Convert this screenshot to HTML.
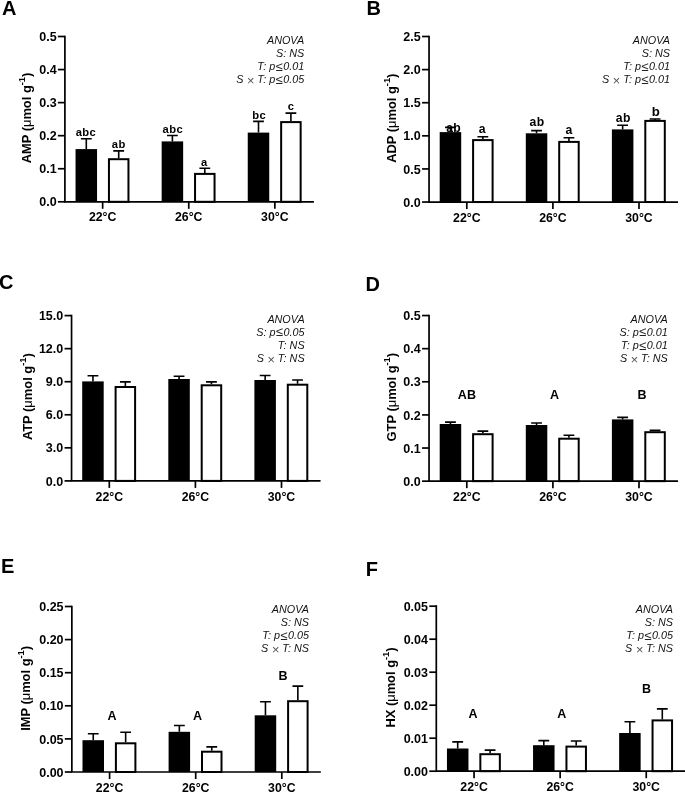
<!DOCTYPE html>
<html><head><meta charset="utf-8"><title>Figure</title>
<style>
html,body{margin:0;padding:0;background:#fff;}
body{width:685px;height:792px;overflow:hidden;}
svg{display:block;will-change:transform;}
text{font-family:"Liberation Sans",sans-serif;fill:#000;}
path{stroke:#000;stroke-width:1.7px;fill:none;stroke-linecap:butt;}
.bk{fill:#000;stroke:none;}
.wh{fill:#fff;stroke:#000;stroke-width:2.0px;}
.eb{stroke-width:1.6px;}
.pl{font-weight:bold;font-size:20.0px;}
.tk{font-weight:bold;font-size:12.5px;text-anchor:end;}
.cat{font-weight:bold;font-size:12.3px;text-anchor:middle;}
.lt{font-weight:bold;font-size:11.2px;text-anchor:middle;letter-spacing:0.4px;}
.lc{font-weight:bold;font-size:12.5px;text-anchor:middle;}
.an{font-style:italic;font-size:10.8px;text-anchor:end;fill:#111;}
.an .x{font-size:12.96px;fill:#555;}
.an .le{font-size:12.96px;fill:#222;}
.yl{font-weight:bold;font-size:12.9px;text-anchor:middle;}
.yl .mu{font-weight:normal;}
.yl .sup{font-size:9.288px;}
</style></head>
<body>
<svg width="685" height="792" viewBox="0 0 685 792">
<text class="pl" x="2" y="14.6">A</text>
<path class="eb" d="M86.3 149.1V138.8M80.9 138.8H91.7"/>
<rect class="bk" x="75.55" y="149.1" width="21.5" height="52.7"/>
<path class="eb" d="M118.7 158.2V150.9M113.3 150.9H124.1"/>
<rect class="wh" x="108.95" y="159.2" width="19.5" height="42.6"/>
<path d="M102.65 201.8V208.8"/>
<text class="cat" x="102.65" y="221.4">22°C</text>
<path class="eb" d="M172.4 141.4V135.5M167 135.5H177.8"/>
<rect class="bk" x="161.65" y="141.4" width="21.5" height="60.4"/>
<path class="eb" d="M204.8 172.9V168.3M199.4 168.3H210.2"/>
<rect class="wh" x="195.05" y="173.9" width="19.5" height="27.9"/>
<path d="M188.75 201.8V208.8"/>
<text class="cat" x="188.75" y="221.4">26°C</text>
<path class="eb" d="M258.5 132.6V121.4M253.1 121.4H263.9"/>
<rect class="bk" x="247.75" y="132.6" width="21.5" height="69.2"/>
<path class="eb" d="M290.9 121.1V113.1M285.5 113.1H296.3"/>
<rect class="wh" x="281.15" y="122.1" width="19.5" height="79.7"/>
<path d="M274.85 201.8V208.8"/>
<text class="cat" x="274.85" y="221.4">30°C</text>
<path d="M64.9 35.65V201.8H313.9"/>
<path d="M57.9 201.8H64.9"/>
<text class="tk" x="56.6" y="206.4">0.0</text>
<path d="M57.9 168.74H64.9"/>
<text class="tk" x="56.6" y="173.34">0.1</text>
<path d="M57.9 135.68H64.9"/>
<text class="tk" x="56.6" y="140.28">0.2</text>
<path d="M57.9 102.62H64.9"/>
<text class="tk" x="56.6" y="107.22">0.3</text>
<path d="M57.9 69.56H64.9"/>
<text class="tk" x="56.6" y="74.16">0.4</text>
<path d="M57.9 36.5H64.9"/>
<text class="tk" x="56.6" y="41.1">0.5</text>
<text class="yl" transform="translate(31 118) rotate(-90)">AMP (<tspan class="mu">μ</tspan>mol g<tspan class="sup" dy="-6">-1</tspan><tspan dy="6">)</tspan></text>
<text class="lt" x="86" y="135.6">abc</text>
<text class="lt" x="118.75" y="148.1">ab</text>
<text class="lt" x="172.8" y="132.5">abc</text>
<text class="lt" x="204.4" y="166.2">a</text>
<text class="lt" x="259.25" y="118.7">bc</text>
<text class="lt" x="291" y="109.8">c</text>
<text class="an" x="304.2" y="44.13">ANOVA</text>
<text class="an" x="304.2" y="57.23">S: NS</text>
<text class="an" x="304.2" y="70.33">T: p<tspan class="le" dx="0.3" dy="0.8">≤</tspan><tspan dx="0.6" dy="-0.8">0</tspan>.01</text>
<text class="an" x="304.2" y="83.43">S <tspan class="x" dx="0.3" dy="2.0">×</tspan><tspan dy="-2.0"> T: p<tspan class="le" dx="0.3" dy="0.8">≤</tspan><tspan dx="0.6" dy="-0.8">0</tspan>.05</tspan></text>
<text class="pl" x="366.6" y="14.6">B</text>
<path class="eb" d="M450.45 132.1V127.4M445.05 127.4H455.85"/>
<rect class="bk" x="439.7" y="132.1" width="21.5" height="69.95"/>
<path class="eb" d="M482.85 139.1V136.8M477.45 136.8H488.25"/>
<rect class="wh" x="473.1" y="140.1" width="19.5" height="61.95"/>
<path d="M466.8 202.05V209.05"/>
<text class="cat" x="466.8" y="221.65">22°C</text>
<path class="eb" d="M536.55 133.3V130.6M531.15 130.6H541.95"/>
<rect class="bk" x="525.8" y="133.3" width="21.5" height="68.75"/>
<path class="eb" d="M568.95 140.9V137.7M563.55 137.7H574.35"/>
<rect class="wh" x="559.2" y="141.9" width="19.5" height="60.15"/>
<path d="M552.9 202.05V209.05"/>
<text class="cat" x="552.9" y="221.65">26°C</text>
<path class="eb" d="M622.65 129.4V125.3M617.25 125.3H628.05"/>
<rect class="bk" x="611.9" y="129.4" width="21.5" height="72.65"/>
<path class="eb" d="M655.05 119.9V119M649.65 119H660.45"/>
<rect class="wh" x="645.3" y="120.9" width="19.5" height="81.15"/>
<path d="M639 202.05V209.05"/>
<text class="cat" x="639" y="221.65">30°C</text>
<path d="M429.05 35.65V202.05H678.05"/>
<path d="M422.05 202.05H429.05"/>
<text class="tk" x="420.75" y="206.65">0.0</text>
<path d="M422.05 168.94H429.05"/>
<text class="tk" x="420.75" y="173.54">0.5</text>
<path d="M422.05 135.83H429.05"/>
<text class="tk" x="420.75" y="140.43">1.0</text>
<path d="M422.05 102.72H429.05"/>
<text class="tk" x="420.75" y="107.32">1.5</text>
<path d="M422.05 69.61H429.05"/>
<text class="tk" x="420.75" y="74.21">2.0</text>
<path d="M422.05 36.5H429.05"/>
<text class="tk" x="420.75" y="41.1">2.5</text>
<text class="yl" transform="translate(396.2 118.2) rotate(-90)">ADP (<tspan class="mu">μ</tspan>mol g<tspan class="sup" dy="-6">-1</tspan><tspan dy="6">)</tspan></text>
<text class="lt" x="453.7" y="131.9" style="font-size:12.2px">ab</text>
<text class="lt" x="482.4" y="133" style="font-size:12.2px">a</text>
<text class="lt" x="537" y="126.1" style="font-size:12.2px">ab</text>
<text class="lt" x="569.2" y="134.3" style="font-size:12.2px">a</text>
<text class="lt" x="623.25" y="121.9" style="font-size:12.2px">ab</text>
<text class="lt" x="656.1" y="115.6" style="font-size:13.2px">b</text>
<text class="an" x="670" y="43.73">ANOVA</text>
<text class="an" x="670" y="56.83">S: NS</text>
<text class="an" x="670" y="69.93">T: p<tspan class="le" dx="0.3" dy="0.8">≤</tspan><tspan dx="0.6" dy="-0.8">0</tspan>.01</text>
<text class="an" x="670" y="83.03">S <tspan class="x" dx="0.3" dy="2.0">×</tspan><tspan dy="-2.0"> T: p<tspan class="le" dx="0.3" dy="0.8">≤</tspan><tspan dx="0.6" dy="-0.8">0</tspan>.01</tspan></text>
<text class="pl" x="-1" y="288.7">C</text>
<path class="eb" d="M92.95 381.4V375.7M87.55 375.7H98.35"/>
<rect class="bk" x="82.2" y="381.4" width="21.5" height="99.5"/>
<path class="eb" d="M125.35 386V381.9M119.95 381.9H130.75"/>
<rect class="wh" x="115.6" y="387" width="19.5" height="93.9"/>
<path d="M109.3 480.9V487.9"/>
<text class="cat" x="109.3" y="500.5">22°C</text>
<path class="eb" d="M179.05 379V376.2M173.65 376.2H184.45"/>
<rect class="bk" x="168.3" y="379" width="21.5" height="101.9"/>
<path class="eb" d="M211.45 384.3V381.9M206.05 381.9H216.85"/>
<rect class="wh" x="201.7" y="385.3" width="19.5" height="95.6"/>
<path d="M195.4 480.9V487.9"/>
<text class="cat" x="195.4" y="500.5">26°C</text>
<path class="eb" d="M265.15 380V375.5M259.75 375.5H270.55"/>
<rect class="bk" x="254.4" y="380" width="21.5" height="100.9"/>
<path class="eb" d="M297.55 383.7V380M292.15 380H302.95"/>
<rect class="wh" x="287.8" y="384.7" width="19.5" height="96.2"/>
<path d="M281.5 480.9V487.9"/>
<text class="cat" x="281.5" y="500.5">30°C</text>
<path d="M71.55 314.75V480.9H320.55"/>
<path d="M64.55 480.9H71.55"/>
<text class="tk" x="63.25" y="485.5">0.0</text>
<path d="M64.55 447.84H71.55"/>
<text class="tk" x="63.25" y="452.44">3.0</text>
<path d="M64.55 414.78H71.55"/>
<text class="tk" x="63.25" y="419.38">6.0</text>
<path d="M64.55 381.72H71.55"/>
<text class="tk" x="63.25" y="386.32">9.0</text>
<path d="M64.55 348.66H71.55"/>
<text class="tk" x="63.25" y="353.26">12.0</text>
<path d="M64.55 315.6H71.55"/>
<text class="tk" x="63.25" y="320.2">15.0</text>
<text class="yl" transform="translate(31.6 396.7) rotate(-90)">ATP (<tspan class="mu">μ</tspan>mol g<tspan class="sup" dy="-6">-1</tspan><tspan dy="6">)</tspan></text>
<text class="an" x="304.6" y="322.53">ANOVA</text>
<text class="an" x="304.6" y="335.63">S: p<tspan class="le" dx="0.3" dy="0.8">≤</tspan><tspan dx="0.6" dy="-0.8">0</tspan>.05</text>
<text class="an" x="304.6" y="348.73">T: NS</text>
<text class="an" x="304.6" y="361.83">S <tspan class="x" dx="0.3" dy="2.0">×</tspan><tspan dy="-2.0"> T: NS</tspan></text>
<text class="pl" x="365.6" y="290.6">D</text>
<path class="eb" d="M450.45 424V422.1M445.05 422.1H455.85"/>
<rect class="bk" x="439.7" y="424" width="21.5" height="57.15"/>
<path class="eb" d="M482.85 433.2V431.1M477.45 431.1H488.25"/>
<rect class="wh" x="473.1" y="434.2" width="19.5" height="46.95"/>
<path d="M466.8 481.15V488.15"/>
<text class="cat" x="466.8" y="500.75">22°C</text>
<path class="eb" d="M536.55 425V423M531.15 423H541.95"/>
<rect class="bk" x="525.8" y="425" width="21.5" height="56.15"/>
<path class="eb" d="M568.95 437.7V435.2M563.55 435.2H574.35"/>
<rect class="wh" x="559.2" y="438.7" width="19.5" height="42.45"/>
<path d="M552.9 481.15V488.15"/>
<text class="cat" x="552.9" y="500.75">26°C</text>
<path class="eb" d="M622.65 419.4V417.4M617.25 417.4H628.05"/>
<rect class="bk" x="611.9" y="419.4" width="21.5" height="61.75"/>
<path class="eb" d="M655.05 431.2V430.4M649.65 430.4H660.45"/>
<rect class="wh" x="645.3" y="432.2" width="19.5" height="48.95"/>
<path d="M639 481.15V488.15"/>
<text class="cat" x="639" y="500.75">30°C</text>
<path d="M429.05 314.7V481.15H678.05"/>
<path d="M422.05 481.15H429.05"/>
<text class="tk" x="420.75" y="485.75">0.0</text>
<path d="M422.05 448.03H429.05"/>
<text class="tk" x="420.75" y="452.63">0.1</text>
<path d="M422.05 414.91H429.05"/>
<text class="tk" x="420.75" y="419.51">0.2</text>
<path d="M422.05 381.79H429.05"/>
<text class="tk" x="420.75" y="386.39">0.3</text>
<path d="M422.05 348.67H429.05"/>
<text class="tk" x="420.75" y="353.27">0.4</text>
<path d="M422.05 315.55H429.05"/>
<text class="tk" x="420.75" y="320.15">0.5</text>
<text class="yl" transform="translate(396.2 397.2) rotate(-90)">GTP (<tspan class="mu">μ</tspan>mol g<tspan class="sup" dy="-6">-1</tspan><tspan dy="6">)</tspan></text>
<text class="lc" x="466.9" y="398.6">AB</text>
<text class="lc" x="554.5" y="398.7">A</text>
<text class="lc" x="641.9" y="398.7">B</text>
<text class="an" x="667.8" y="322.53">ANOVA</text>
<text class="an" x="667.8" y="335.63">S: p<tspan class="le" dx="0.3" dy="0.8">≤</tspan><tspan dx="0.6" dy="-0.8">0</tspan>.01</text>
<text class="an" x="667.8" y="348.73">T: p<tspan class="le" dx="0.3" dy="0.8">≤</tspan><tspan dx="0.6" dy="-0.8">0</tspan>.01</text>
<text class="an" x="667.8" y="361.83">S <tspan class="x" dx="0.3" dy="2.0">×</tspan><tspan dy="-2.0"> T: NS</tspan></text>
<text class="pl" x="0.9" y="573">E</text>
<path class="eb" d="M93.25 740.2V733.8M87.85 733.8H98.65"/>
<rect class="bk" x="82.5" y="740.2" width="21.5" height="31.8"/>
<path class="eb" d="M125.65 742.3V732.3M120.25 732.3H131.05"/>
<rect class="wh" x="115.9" y="743.3" width="19.5" height="28.7"/>
<path d="M109.6 772V779"/>
<text class="cat" x="109.6" y="791.6">22°C</text>
<path class="eb" d="M179.35 731.8V725.5M173.95 725.5H184.75"/>
<rect class="bk" x="168.6" y="731.8" width="21.5" height="40.2"/>
<path class="eb" d="M211.75 750.7V746.9M206.35 746.9H217.15"/>
<rect class="wh" x="202" y="751.7" width="19.5" height="20.3"/>
<path d="M195.7 772V779"/>
<text class="cat" x="195.7" y="791.6">26°C</text>
<path class="eb" d="M265.45 715.3V701.7M260.05 701.7H270.85"/>
<rect class="bk" x="254.7" y="715.3" width="21.5" height="56.7"/>
<path class="eb" d="M297.85 700.2V686.1M292.45 686.1H303.25"/>
<rect class="wh" x="288.1" y="701.2" width="19.5" height="70.8"/>
<path d="M281.8 772V779"/>
<text class="cat" x="281.8" y="791.6">30°C</text>
<path d="M71.85 605.65V772H320.85"/>
<path d="M64.85 772H71.85"/>
<text class="tk" x="63.55" y="776.6">0.00</text>
<path d="M64.85 738.9H71.85"/>
<text class="tk" x="63.55" y="743.5">0.05</text>
<path d="M64.85 705.8H71.85"/>
<text class="tk" x="63.55" y="710.4">0.10</text>
<path d="M64.85 672.7H71.85"/>
<text class="tk" x="63.55" y="677.3">0.15</text>
<path d="M64.85 639.6H71.85"/>
<text class="tk" x="63.55" y="644.2">0.20</text>
<path d="M64.85 606.5H71.85"/>
<text class="tk" x="63.55" y="611.1">0.25</text>
<text class="yl" transform="translate(30.4 688.4) rotate(-90)">IMP (<tspan class="mu">μ</tspan>mol g<tspan class="sup" dy="-6">-1</tspan><tspan dy="6">)</tspan></text>
<text class="lc" x="112" y="719.9">A</text>
<text class="lc" x="197.4" y="719.9">A</text>
<text class="lc" x="282.9" y="680.2">B</text>
<text class="an" x="309" y="612.93">ANOVA</text>
<text class="an" x="309" y="626.03">S: NS</text>
<text class="an" x="309" y="639.13">T: p<tspan class="le" dx="0.3" dy="0.8">≤</tspan><tspan dx="0.6" dy="-0.8">0</tspan>.05</text>
<text class="an" x="309" y="652.23">S <tspan class="x" dx="0.3" dy="2.0">×</tspan><tspan dy="-2.0"> T: NS</tspan></text>
<text class="pl" x="365.7" y="575.6">F</text>
<path class="eb" d="M457.7 748.5V741.9M452.3 741.9H463.1"/>
<rect class="bk" x="446.95" y="748.5" width="21.5" height="22.7"/>
<path class="eb" d="M490.1 753.2V750.1M484.7 750.1H495.5"/>
<rect class="wh" x="480.35" y="754.2" width="19.5" height="17"/>
<path d="M474.05 771.2V778.2"/>
<text class="cat" x="474.05" y="790.8">22°C</text>
<path class="eb" d="M543.8 745.2V740.6M538.4 740.6H549.2"/>
<rect class="bk" x="533.05" y="745.2" width="21.5" height="26"/>
<path class="eb" d="M576.2 745.6V741M570.8 741H581.6"/>
<rect class="wh" x="566.45" y="746.6" width="19.5" height="24.6"/>
<path d="M560.15 771.2V778.2"/>
<text class="cat" x="560.15" y="790.8">26°C</text>
<path class="eb" d="M629.9 733V721.8M624.5 721.8H635.3"/>
<rect class="bk" x="619.15" y="733" width="21.5" height="38.2"/>
<path class="eb" d="M662.3 719.4V708.9M656.9 708.9H667.7"/>
<rect class="wh" x="652.55" y="720.4" width="19.5" height="50.8"/>
<path d="M646.25 771.2V778.2"/>
<text class="cat" x="646.25" y="790.8">30°C</text>
<path d="M436.3 605.35V771.2H685.3"/>
<path d="M429.3 771.2H436.3"/>
<text class="tk" x="428" y="775.8">0.00</text>
<path d="M429.3 738.2H436.3"/>
<text class="tk" x="428" y="742.8">0.01</text>
<path d="M429.3 705.2H436.3"/>
<text class="tk" x="428" y="709.8">0.02</text>
<path d="M429.3 672.2H436.3"/>
<text class="tk" x="428" y="676.8">0.03</text>
<path d="M429.3 639.2H436.3"/>
<text class="tk" x="428" y="643.8">0.04</text>
<path d="M429.3 606.2H436.3"/>
<text class="tk" x="428" y="610.8">0.05</text>
<text class="yl" transform="translate(395.3 687.5) rotate(-90)">HX (<tspan class="mu">μ</tspan>mol g<tspan class="sup" dy="-6">-1</tspan><tspan dy="6">)</tspan></text>
<text class="lc" x="473" y="717.9">A</text>
<text class="lc" x="561.75" y="718.3">A</text>
<text class="lc" x="646.6" y="692.6">B</text>
<text class="an" x="673" y="612.93">ANOVA</text>
<text class="an" x="673" y="626.03">S: NS</text>
<text class="an" x="673" y="639.13">T: p<tspan class="le" dx="0.3" dy="0.8">≤</tspan><tspan dx="0.6" dy="-0.8">0</tspan>.05</text>
<text class="an" x="673" y="652.23">S <tspan class="x" dx="0.3" dy="2.0">×</tspan><tspan dy="-2.0"> T: NS</tspan></text>
</svg>
</body></html>
